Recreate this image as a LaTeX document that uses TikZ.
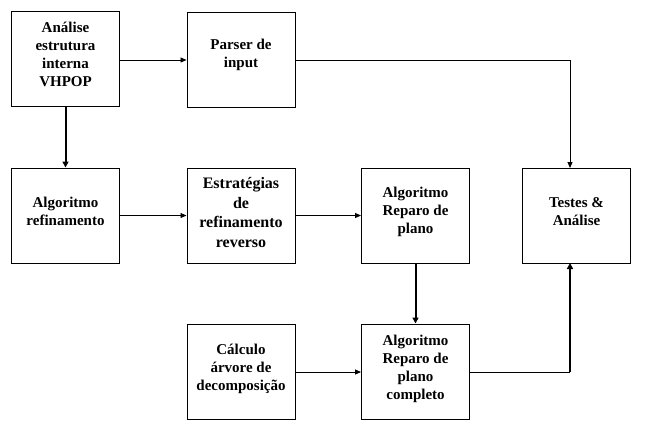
\documentclass[tikz,border=0pt]{standalone}
\usepackage{fontspec}
\setmainfont{Liberation Serif}
\usetikzlibrary{arrows.meta}
\begin{document}
\begin{tikzpicture}[x=1pt,y=-1pt,
  box/.style={draw=black,line width=1pt,rectangle,minimum width=108pt,minimum height=95pt,inner sep=0pt},
  txt/.style={align=center,font=\fontsize{15}{18}\selectfont\bfseries,inner sep=0pt},
  thin/.style={line width=0.9pt,-{Triangle[length=6pt,width=5pt]}},
  thick/.style={line width=2pt,-{Triangle[length=6pt,width=6pt]}}
]
\useasboundingbox[fill=white] (0,0) rectangle (648,432);
% boxes
\node[box] (a) at (65.5,59) {};
\node[box] (b) at (241,59.5) {};
\node[box] (c) at (65.5,215.5) {};
\node[box] (d) at (241,215.5) {};
\node[box] (e) at (415.5,215.5) {};
\node[box] (f) at (576.5,215.5) {};
\node[box] (g) at (241,371.5) {};
\node[box] (h) at (415.5,371.5) {};
% texts
\node[txt] (at) at ([yshift=5pt]a.center) {Análise\\estrutura\\interna\\VHPOP};
\node[txt] (bt) at ([yshift=5pt]b.center) {Parser de\\input};
\node[txt] (ct) at ([yshift=4pt]c.center) {Algoritmo\\refinamento};
\node[txt,font=\fontsize{16}{19.5}\selectfont\bfseries] (dt) at ([yshift=3pt]d.center) {Estratégias\\de\\refinamento\\reverso};
\node[txt] (et) at ([yshift=4pt]e.center) {Algoritmo\\Reparo de\\plano};
\node[txt] (ft) at ([yshift=4pt]f.center) {Testes \&\\Análise};
\node[txt] (gt) at ([yshift=3pt]g.center) {Cálculo\\árvore de\\decomposição};
\node[txt] (ht) at ([yshift=3pt]h.center) {Algoritmo\\Reparo de\\plano\\completo};
% connector corners
\coordinate (fin) at (570,168);
\coordinate (fout) at (570,263);
\coordinate (k1) at (570,60);
\coordinate (k2) at (570,372);
% connectors
\draw[thin] (a.east |- 0,60) -- (b.west |- 0,60);
\draw[thin] (b.east |- 0,60) -- (k1) -- (fin);
\draw[thick] (a.south) -- (c.north);
\draw[thin] (c.east) -- (d.west);
\draw[thin] (d.east) -- (e.west);
\draw[thick] (e.south) -- (h.north);
\draw[thin] (g.east |- 0,372) -- (h.west |- 0,372);
\draw[line width=1pt] (h.east |- 0,372) -- (k2);
\draw[thick] ([yshift=0.5pt]k2) -- (fout);
\end{tikzpicture}
\end{document}
